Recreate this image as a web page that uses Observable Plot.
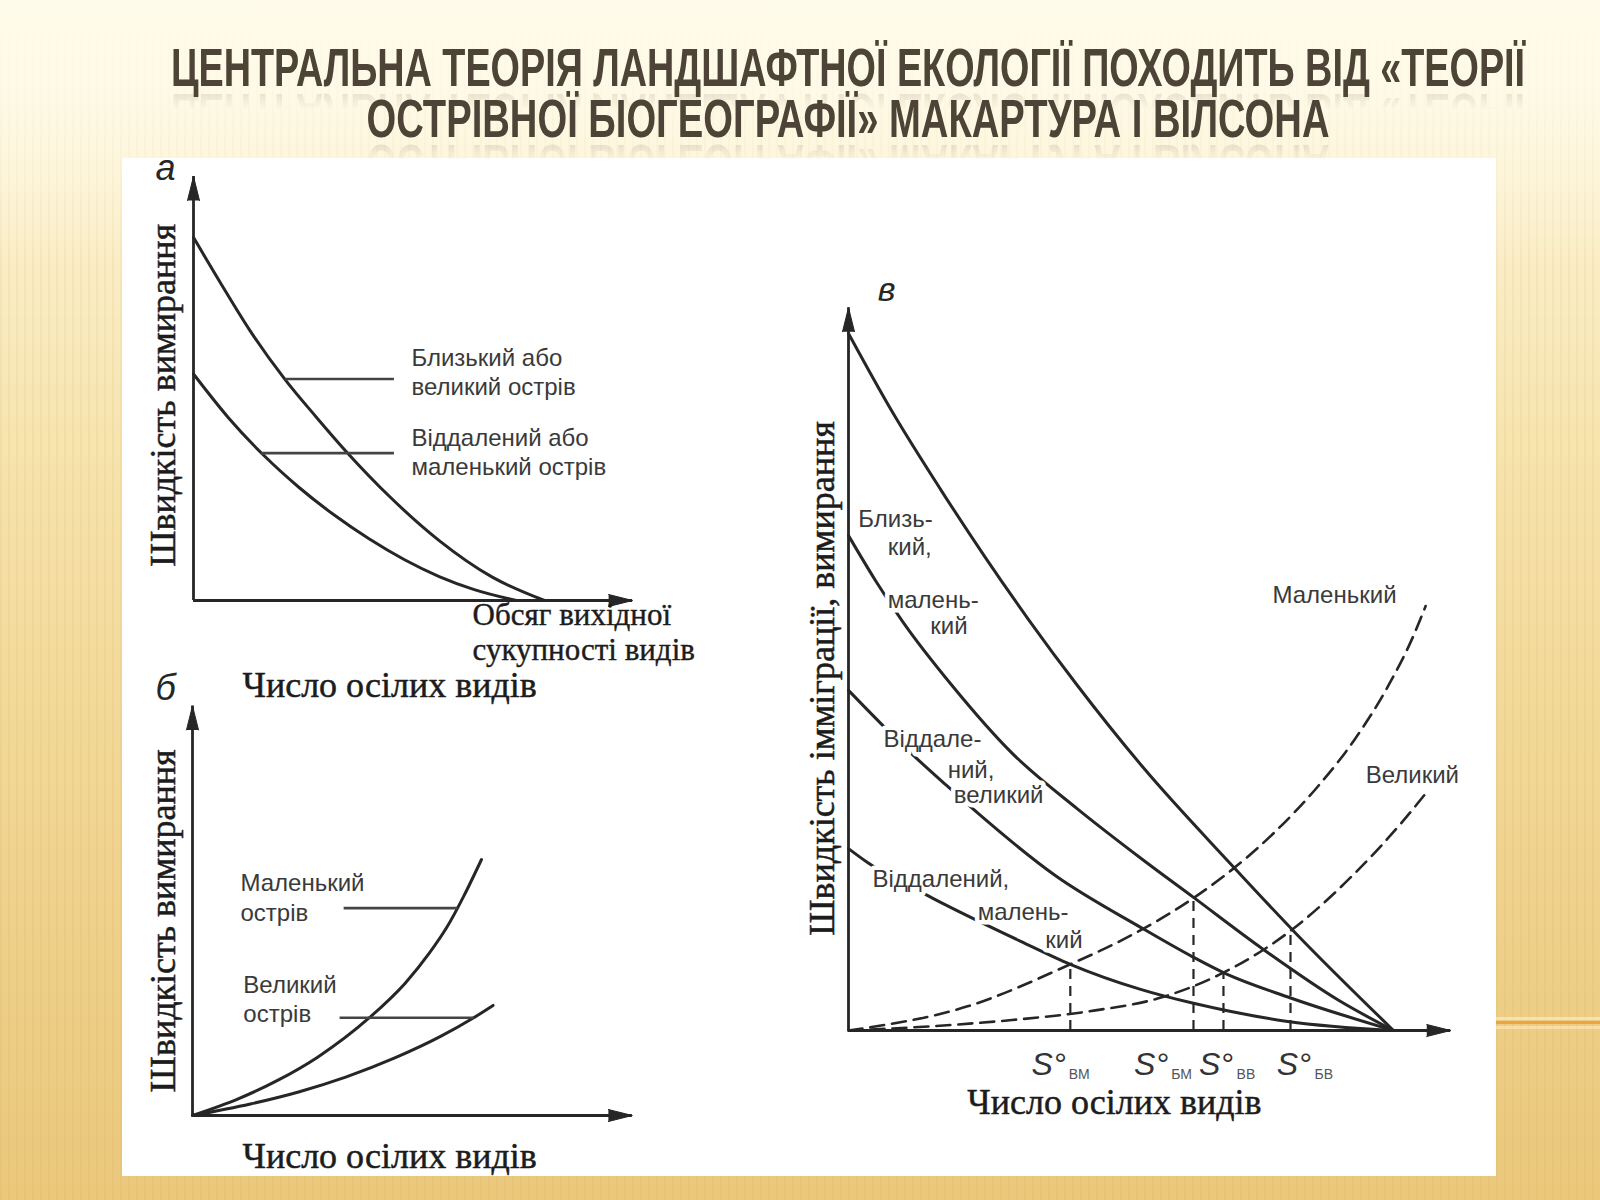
<!DOCTYPE html>
<html><head><meta charset="utf-8">
<script src="https://cdn.jsdelivr.net/npm/d3@7"></script>
<script src="https://cdn.jsdelivr.net/npm/@observablehq/plot@0.6"></script>
<style>
html,body{margin:0;padding:0;}
body{width:1600px;height:1200px;position:relative;overflow:hidden;
 background:
  linear-gradient(180deg, rgba(255,251,234,1) 0px, rgba(255,251,234,0.75) 90px, rgba(255,251,234,0) 260px),
  repeating-linear-gradient(90deg, rgba(190,140,40,0.08) 0px, rgba(190,140,40,0.08) 2px, rgba(255,255,255,0) 2px, rgba(255,255,255,0) 8px),
  linear-gradient(180deg, #fffbea 0px, #fcf2d2 160px, #f6e2aa 480px, #f0d38f 850px, #eac87c 1200px);}
#sheet{position:absolute;left:122px;top:158px;width:1374px;height:1018px;background:#fff;}
.tl{position:absolute;left:848px;white-space:nowrap;font-family:"Liberation Sans Narrow","Liberation Sans",Arial,sans-serif;
 font-weight:bold;font-size:53px;line-height:48px;color:#4d4336;
 -webkit-box-reflect: below -4px linear-gradient(transparent 55%, rgba(0,0,0,0.16));}
#orange{position:absolute;left:1496px;top:1021px;width:104px;height:3px;background:#e9a53f;box-shadow:0 -4px 0 rgba(255,240,200,0.6),0 5px 0 rgba(255,240,200,0.5);}
</style></head><body>
<div id="sheet"></div>
<div id="orange"></div>
<div id="t1" class="tl" style="top:43.5px">ЦЕНТРАЛЬНА ТЕОРІЯ ЛАНДШАФТНОЇ ЕКОЛОГІЇ ПОХОДИТЬ ВІД «ТЕОРІЇ</div>
<div id="t2" class="tl" style="top:94.5px">ОСТРІВНОЇ БІОГЕОГРАФІЇ» МАКАРТУРА І ВІЛСОНА</div>
<script>
// ---------- Panel а: extinction rate vs. size of species pool ----------
const a_near_x = [0, 8, 16, 26, 35, 44, 56, 70, 85, 100];
const a_near_y = [100, 87, 74.5, 61, 50.5, 40.5, 28.5, 16.5, 6.5, 0];
const a_far_x  = [0, 10, 20, 30, 40, 50, 60, 70, 80, 92];
const a_far_y  = [62.4, 50.3, 40.0, 31.2, 23.6, 17.0, 11.3, 6.6, 3.0, 0];
const a_labels = ["Близький або", "великий острів", "Віддалений або", "маленький острів"];

// ---------- Panel б: extinction rate vs. number of resident species ----------
const b_small_x = [0, 15.8, 29.6, 43.3, 61.2, 73.6, 82, 88, 94, 100];
const b_small_y = [0, 6.5, 13.8, 22.8, 38.2, 51.7, 63.5, 73.5, 86.0, 100];
const b_large_x = [0, 20, 37, 53, 70, 86, 97, 104];
const b_large_y = [0, 4.5, 9.3, 15, 22.5, 31, 38, 43];
const b_labels = ["Маленький", "острів", "Великий", "острів"];

// ---------- Panel в: immigration (solid) and extinction (dashed) ----------
const v_nearLarge_x = [0, 8, 17, 25, 33, 42, 54, 70, 82, 100];
const v_nearLarge_y = [100, 88.8, 77.5, 68, 59, 49.5, 37.8, 24, 14, 0];
const v_nearSmall_x = [0, 5, 10, 19, 30, 42, 54, 63.3, 76, 90, 100];
const v_nearSmall_y = [71, 64.5, 58.6, 49.5, 39.8, 31.8, 24.5, 19.1, 11.7, 4.3, 0];
const v_farLarge_x  = [0, 6, 12, 17.5, 24, 38, 53.6, 63.3, 68.8, 81, 100];
const v_farLarge_y  = [48.8, 44, 39.4, 35.5, 31, 22.2, 14.8, 10.5, 8.3, 4.7, 0];
const v_farSmall_x  = [0, 3.5, 15.4, 31.6, 40.7, 53.6, 63.3, 80.6, 100];
const v_farSmall_y  = [26.1, 24.1, 19, 12.8, 9.5, 5.9, 3.9, 1.3, 0];
const v_extSmall_x  = [0, 22, 40.7, 50, 63.3, 70.1, 78, 86, 93, 99, 103.7, 105.9];
const v_extSmall_y  = [0, 3.5, 9.5, 12.9, 19.0, 22.9, 28.3, 34.9, 41.9, 49.4, 56.7, 60.9];
const v_extLarge_x  = [0, 15, 30, 45, 57, 68.8, 81.1, 92.7, 101.8, 106.2];
const v_extLarge_y  = [0, 0.6, 1.5, 2.85, 4.65, 8.3, 14.3, 22.4, 30.1, 34.3];
const v_eq_x = [40.7, 63.3, 68.8, 81.1];          // equilibrium species numbers
const v_eq_y = [9.5, 19.1, 8.3, 14.3];
const v_eq_sub = ["ВМ", "БМ", "ВВ", "БВ"];
const v_labels = ["Близь-", "кий,", "малень-", "кий", "Віддале-", "ний,", "великий",
                  "Віддалений,", "малень-", "кий", "Маленький", "Великий"];

// annotation anchors (data units of each panel)
const a_labelAnchor = [[62.1, 66.6], [62.1, 58.6], [62.1, 44.6], [62.1, 36.8]];
const a_leaders = [[26, 57.1, 61], [19.2, 57.1, 40.6]];
const b_labelAnchor = [[16.6, 90.6], [16.6, 78.9], [17.6, 50.8], [17.6, 39.5]];
const b_leaders = [[52.3, 91.6, 81], [50.9, 97.3, 38.2]];
const v_labelAnchor = [[1.8, 73.3], [7.2, 69.3], [7.2, 61.7], [15.0, 58.0], [6.4, 41.8], [18.2, 37.4],
  [19.3, 33.7], [4.4, 21.7], [23.7, 16.9], [36.1, 12.9], [77.8, 62.4], [94.9, 36.6]];
const v_sAnchor = [33.6, 52.4, 64.3, 78.6];
const v_subAnchor = [40.4, 59.2, 71.2, 85.5];

// ---------- helpers ----------
const pts = (xs, ys) => xs.map((x, i) => ({x, y: ys[i]}));
const INK = "#262626", LABEL = "#3a3a3a", SERIF_INK = "#1c1c1c";
const SERIF = "Liberation Serif, Times New Roman, serif";
const SANS = "Liberation Sans, Arial, sans-serif";
const serifStyle = {fontFamily: SERIF, fontSize: 36, fill: SERIF_INK, stroke: SERIF_INK, strokeWidth: 0.5};

function axes(xMax, yMax) {
  return [
    Plot.ruleY([0], {x1: 0, x2: xMax, stroke: INK, strokeWidth: 2.8}),
    Plot.ruleX([0], {y1: 0, y2: yMax, stroke: INK, strokeWidth: 2.8}),
    Plot.vector([{x: xMax, y: 0}], {x: "x", y: "y", rotate: 90, length: 24, r: 6, shape: "spike", anchor: "end", fill: INK, stroke: INK, strokeWidth: 1}),
    Plot.vector([{x: 0, y: yMax}], {x: "x", y: "y", rotate: 0, length: 24, r: 6, shape: "spike", anchor: "end", fill: INK, stroke: INK, strokeWidth: 1})
  ];
}
function curve(xs, ys, dashed) {
  return Plot.line(pts(xs, ys), {x: "x", y: "y", curve: "monotone-x", stroke: INK,
    strokeWidth: dashed ? 2.6 : 3, strokeDasharray: dashed ? "14,8" : null});
}
function panel({left, top, width, height, ox, oy, ux, uy, xMax, yMax, marks}) {
  const ml = ox - left, mb = top + height - oy;
  const mr = width - ml - xMax * ux, mt = height - mb - yMax * uy;
  const p = Plot.plot({width, height, marginLeft: ml, marginRight: mr, marginTop: mt, marginBottom: mb,
    x: {domain: [0, xMax], axis: null}, y: {domain: [0, yMax], axis: null},
    style: {background: "none", overflow: "visible"}, marks});
  p.style.position = "absolute"; p.style.left = left + "px"; p.style.top = top + "px";
  document.body.appendChild(p);
}

// ---------- Panel а ----------
panel({left: 130, top: 150, width: 620, height: 560, ox: 193, oy: 600, ux: 3.51, uy: 3.63, xMax: 125.1, yMax: 116.8,
  marks: [
    ...axes(125.1, 116.8),
    curve(a_near_x, a_near_y), curve(a_far_x, a_far_y),
    Plot.link(a_leaders, {x1: d => d[0], x2: d => d[1], y1: d => d[2], y2: d => d[2], stroke: "#444", strokeWidth: 2.6}),
    Plot.text(a_labels, {x: (d, i) => a_labelAnchor[i][0], y: (d, i) => a_labelAnchor[i][1], text: d => d, textAnchor: "start",
      fontFamily: SANS, fontSize: 24, fill: LABEL}),
    Plot.text(["а"], {x: -8, y: 119, text: d => d, fontFamily: SANS, fontStyle: "italic", fontSize: 36, fill: INK}),
    Plot.text(["Швидкість вимирання"], {x: -8.5, y: 56.5, text: d => d, rotate: -90, ...serifStyle}),
    Plot.text(["Обсяг вихідної", "сукупності видів"], {x: 79.5, y: (d, i) => [-4.0, -13.7][i], text: d => d, textAnchor: "start",
      ...serifStyle, fontSize: 31, strokeWidth: 0.4})
  ]});

// ---------- Panel б ----------
panel({left: 130, top: 690, width: 620, height: 490, ox: 192, oy: 1115, ux: 2.89, uy: 2.56, xMax: 152.2, yMax: 160,
  marks: [
    ...axes(152.2, 160),
    curve(b_small_x, b_small_y), curve(b_large_x, b_large_y),
    Plot.link(b_leaders, {x1: d => d[0], x2: d => d[1], y1: d => d[2], y2: d => d[2], stroke: "#444", strokeWidth: 2.6}),
    Plot.text(b_labels, {x: (d, i) => b_labelAnchor[i][0], y: (d, i) => b_labelAnchor[i][1], text: d => d, textAnchor: "start",
      fontFamily: SANS, fontSize: 24, fill: LABEL}),
    Plot.text(["б"], {x: -9.3, y: 166.8, text: d => d, fontFamily: SANS, fontStyle: "italic", fontSize: 36, fill: INK}),
    Plot.text(["Число осілих видів"], {x: 17.3, y: 168, text: d => d, textAnchor: "start", ...serifStyle}),
    Plot.text(["Швидкість вимирання"], {x: -10, y: 76, text: d => d, rotate: -90, ...serifStyle}),
    Plot.text(["Число осілих видів"], {x: 17.3, y: -16, text: d => d, textAnchor: "start", ...serifStyle})
  ]});

// ---------- Panel в ----------
panel({left: 790, top: 260, width: 700, height: 880, ox: 848, oy: 1030, ux: 5.45, uy: 6.97, xMax: 110.5, yMax: 103.7,
  marks: [
    ...axes(110.5, 103.7),
    curve(v_extSmall_x, v_extSmall_y, true), curve(v_extLarge_x, v_extLarge_y, true),
    Plot.ruleX(v_eq_x, {x: d => d, y1: 0, y2: (d, i) => v_eq_y[i], stroke: INK, strokeWidth: 2.2, strokeDasharray: "10,7"}),
    curve(v_nearLarge_x, v_nearLarge_y), curve(v_nearSmall_x, v_nearSmall_y),
    curve(v_farLarge_x, v_farLarge_y), curve(v_farSmall_x, v_farSmall_y),
    Plot.text(v_labels, {x: (d, i) => v_labelAnchor[i][0], y: (d, i) => v_labelAnchor[i][1], text: d => d, textAnchor: "start",
      fontFamily: SANS, fontSize: 24, fill: LABEL, stroke: "white", strokeWidth: 9}),
    Plot.text(v_sAnchor, {x: d => d, y: -4.9, text: () => "S°", textAnchor: "start", fontFamily: SANS, fontStyle: "italic", fontSize: 32, fill: "#333"}),
    Plot.text(v_eq_sub, {x: (d, i) => v_subAnchor[i], y: -6.3, text: d => d, textAnchor: "start", fontFamily: SANS, fontSize: 14, fill: "#555"}),
    Plot.text(["в"], {x: 7.0, y: 106.2, text: d => d, fontFamily: SANS, fontStyle: "italic", fontSize: 34, fill: INK}),
    Plot.text(["Швидкість імміграції, вимирання"], {x: -4.8, y: 50.5, text: d => d, rotate: -90, ...serifStyle}),
    Plot.text(["Число осілих видів"], {x: 21.8, y: -10.3, text: d => d, textAnchor: "start", ...serifStyle})
  ]});

// ---------- fit title lines to their widths ----------
for (const [id, w] of [["t1", 1354], ["t2", 963]]) {
  const el = document.getElementById(id);
  const s = w / el.getBoundingClientRect().width;
  el.style.transform = `translateX(-50%) scaleX(${s})`;
}
</script>
</body></html>
